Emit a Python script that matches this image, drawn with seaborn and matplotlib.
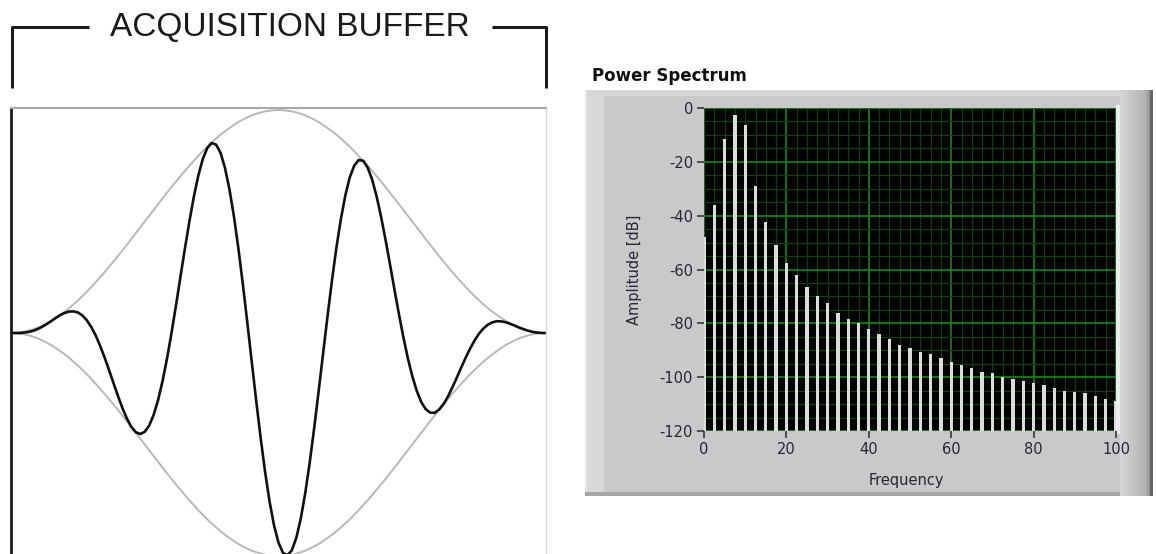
import numpy as np
import matplotlib
matplotlib.use("Agg")
import matplotlib.pyplot as plt
from matplotlib.patches import Rectangle
from matplotlib.lines import Line2D
import seaborn as sns

# ---------------------------------------------------------------------------
# Data
# ---------------------------------------------------------------------------
# Acquisition buffer: 121 samples across the buffer (0 = start, 1 = end)
buffer_pos = np.linspace(0.0, 1.0, 121)

# Hann window envelope over the buffer
window_amp = [
    0.000, 0.001, 0.003, 0.006, 0.011, 0.017, 0.024, 0.033, 0.043, 0.054,
    0.067, 0.081, 0.095, 0.111, 0.128, 0.146, 0.165, 0.185, 0.206, 0.228,
    0.250, 0.273, 0.297, 0.321, 0.345, 0.371, 0.396, 0.422, 0.448, 0.474,
    0.500, 0.526, 0.552, 0.578, 0.604, 0.629, 0.655, 0.679, 0.703, 0.727,
    0.750, 0.772, 0.794, 0.815, 0.835, 0.854, 0.872, 0.889, 0.905, 0.919,
    0.933, 0.946, 0.957, 0.967, 0.976, 0.983, 0.989, 0.994, 0.997, 0.999,
    1.000,
    0.999, 0.997, 0.994, 0.989, 0.983, 0.976, 0.967, 0.957, 0.946, 0.933,
    0.919, 0.905, 0.889, 0.872, 0.854, 0.835, 0.815, 0.794, 0.772, 0.750,
    0.727, 0.703, 0.679, 0.655, 0.629, 0.604, 0.578, 0.552, 0.526, 0.500,
    0.474, 0.448, 0.422, 0.396, 0.371, 0.345, 0.321, 0.297, 0.273, 0.250,
    0.228, 0.206, 0.185, 0.165, 0.146, 0.128, 0.111, 0.095, 0.081, 0.067,
    0.054, 0.043, 0.033, 0.024, 0.017, 0.011, 0.006, 0.003, 0.001, 0.000,
]

# Windowed signal inside the buffer
signal_amp = [
    0.000, 0.000, 0.000, 0.002, 0.005, 0.010, 0.018, 0.028, 0.040, 0.053,
    0.067, 0.080, 0.090, 0.096, 0.097, 0.092, 0.079, 0.057, 0.027, -0.011,
    -0.058, -0.110, -0.167, -0.225, -0.283, -0.337, -0.384, -0.421, -0.445, -0.453,
    -0.443, -0.415, -0.367, -0.300, -0.215, -0.114, 0.000, 0.123, 0.251, 0.378,
    0.499, 0.610, 0.705, 0.779, 0.829, 0.852, 0.845, 0.808, 0.740, 0.644,
    0.523, 0.380, 0.219, 0.048, -0.129, -0.304, -0.471, -0.624, -0.756, -0.863,
    -0.940, -0.986, -0.997, -0.974, -0.918, -0.832, -0.718, -0.581, -0.427, -0.262,
    -0.092, 0.076, 0.237, 0.384, 0.512, 0.618, 0.699, 0.751, 0.776, 0.772,
    0.742, 0.688, 0.613, 0.522, 0.419, 0.309, 0.196, 0.086, -0.018, -0.112,
    -0.193, -0.259, -0.309, -0.341, -0.357, -0.358, -0.344, -0.319, -0.285, -0.244,
    -0.200, -0.154, -0.110, -0.069, -0.033, -0.002, 0.021, 0.038, 0.048, 0.053,
    0.052, 0.048, 0.041, 0.033, 0.024, 0.017, 0.010, 0.005, 0.002, 0.000, 0.000,
]

# Power spectrum: frequency bins and amplitude in dB
freq_bins = [
    0, 2.5, 5, 7.5, 10, 12.5, 15, 17.5, 20, 22.5,
    25, 27.5, 30, 32.5, 35, 37.5, 40, 42.5, 45, 47.5,
    50, 52.5, 55, 57.5, 60, 62.5, 65, 67.5, 70, 72.5,
    75, 77.5, 80, 82.5, 85, 87.5, 90, 92.5, 95, 97.5, 100,
]
amplitude_db = [
    -48, -36, -11.5, -2.5, -6.5, -29, -42.5, -51, -57.5, -62,
    -66.5, -70, -72.5, -76, -78.5, -80, -82, -84, -86, -88,
    -89, -90.5, -91.5, -93, -94.5, -95.5, -96.5, -98, -98.5, -100,
    -100.5, -101.5, -102, -103, -104, -105, -105.5, -106, -107, -108, -109,
]
x_ticks = [0, 20, 40, 60, 80, 100]
y_ticks = [-120, -100, -80, -60, -40, -20, 0]

# ---------------------------------------------------------------------------
# Figure setup (pixel helpers)
# ---------------------------------------------------------------------------
W, H = 1156, 554

sns.set_theme(style="white")
plt.rcParams["font.family"] = ["DejaVu Sans"]
plt.rcParams["axes.unicode_minus"] = False


def rect(x0, y0, x1, y1):
    """Figure-fraction [left, bottom, width, height] from pixel corners."""
    return [x0 / W, 1 - y1 / H, (x1 - x0) / W, (y1 - y0) / H]


def fx(px):
    return px / W


def fy(py):
    return 1 - py / H


fig = plt.figure(figsize=(W / 100, H / 100), dpi=100)
fig.patch.set_facecolor("white")

# ---------------------------------------------------------------------------
# Left: acquisition buffer with windowed waveform
# ---------------------------------------------------------------------------
ax1 = fig.add_axes(rect(11, 108, 546, 558))
ax1.set_facecolor("white")
sns.lineplot(x=buffer_pos, y=window_amp, ax=ax1, color="#b8b8b8", lw=1.4,
             sort=False, estimator=None)
sns.lineplot(x=buffer_pos, y=-np.asarray(window_amp), ax=ax1, color="#b8b8b8",
             lw=1.4, sort=False, estimator=None)
sns.lineplot(x=buffer_pos, y=signal_amp, ax=ax1, color="#111111", lw=1.9,
             sort=False, estimator=None)
ax1.set_xlim(0, 1)
ax1.set_ylim(-1.009, 1.009)
ax1.set_xticks([])
ax1.set_yticks([])
ax1.set_xlabel("")
ax1.set_ylabel("")
ax1.spines["left"].set_color("#1a1a1a")
ax1.spines["left"].set_linewidth(2.0)
ax1.spines["top"].set_color("#a8a8a8")
ax1.spines["top"].set_linewidth(1.5)
ax1.spines["right"].set_color("#d8d8d8")
ax1.spines["right"].set_linewidth(1.0)
ax1.spines["bottom"].set_visible(False)

# Bracket with title over the buffer
br_kw = dict(color="#1a1a1a", lw=2.2, solid_capstyle="butt", transform=fig.transFigure)
fig.add_artist(Line2D([fx(12), fx(12), fx(89)], [fy(88), fy(27), fy(27)], **br_kw))
fig.add_artist(Line2D([fx(492), fx(546), fx(546)], [fy(27), fy(27), fy(88)], **br_kw))
fig.text(fx(290), fy(27), "ACQUISITION BUFFER", ha="center", va="center",
         fontsize=24, family=["Liberation Sans", "DejaVu Sans"], color="#1a1a1a")

# ---------------------------------------------------------------------------
# Right: power spectrum panel
# ---------------------------------------------------------------------------
# Panel frame
def add_rect(x0, y0, x1, y1, color, z=-5):
    r = rect(x0, y0, x1, y1)
    fig.add_artist(Rectangle((r[0], r[1]), r[2], r[3], transform=fig.transFigure,
                             facecolor=color, edgecolor="none", zorder=z))

add_rect(585, 90, 1153, 496, "#c9c9c9")
add_rect(585, 90, 604, 496, "#d8d8d8", z=-4)
add_rect(585, 90, 587, 496, "#e4e4e4", z=-3)
add_rect(585, 90, 1140, 96, "#d6d6d6", z=-4)
add_rect(585, 492, 1153, 496, "#a6a6a6", z=-3)
add_rect(1116, 105, 1120, 434, "#ececec", z=-3)

# Right bevel gradient
bev = fig.add_axes(rect(1120, 90, 1153, 496), zorder=-1)
cols = np.concatenate([
    np.linspace(0.84, 0.70, 26),
    np.linspace(0.66, 0.58, 4),
    np.full(3, 0.40),
])
bev.imshow(np.tile(cols, (2, 1)), cmap="gray", vmin=0, vmax=1, aspect="auto",
           interpolation="bilinear")
bev.set_axis_off()

fig.text(fx(592), fy(81), "Power Spectrum", ha="left", va="baseline",
         fontsize=12, fontweight="bold", color="#111111")

ax2 = fig.add_axes(rect(704, 108, 1116, 431))
ax2.set_facecolor("#000000")
ax2.bar(freq_bins, np.asarray(amplitude_db) + 120, bottom=-120, width=0.8,
        color="#dcdcdc", edgecolor="none", zorder=3)
ax2.set_xlim(0, 100)
ax2.set_ylim(-120, 0)
ax2.set_xticks(x_ticks)
ax2.set_yticks(y_ticks)
ax2.set_xticks(np.arange(0, 100.1, 2.5), minor=True)
ax2.set_yticks(np.arange(-120, 0.1, 5), minor=True)
ax2.grid(which="minor", color="#0a420a", lw=0.9, zorder=1)
ax2.grid(which="major", color="#118a11", lw=1.2, zorder=2)
ax2.set_axisbelow(True)
for sp in ax2.spines.values():
    sp.set_visible(False)
ax2.tick_params(which="major", bottom=True, left=True, direction="out",
                length=5, width=1.1, color="#2a2a2a", labelsize=10.5,
                labelcolor="#262636", pad=3)
ax2.tick_params(which="minor", bottom=False, left=False, length=0)
ax2.set_xlabel("Frequency", fontsize=10.5, color="#262636")
ax2.set_ylabel("Amplitude [dB]", fontsize=10.5, color="#262636")
ax2.xaxis.set_label_coords(0.49, -0.13)
ax2.yaxis.set_label_coords(-0.15, 0.5)

fig.savefig("out.png", dpi=100, facecolor="white")
